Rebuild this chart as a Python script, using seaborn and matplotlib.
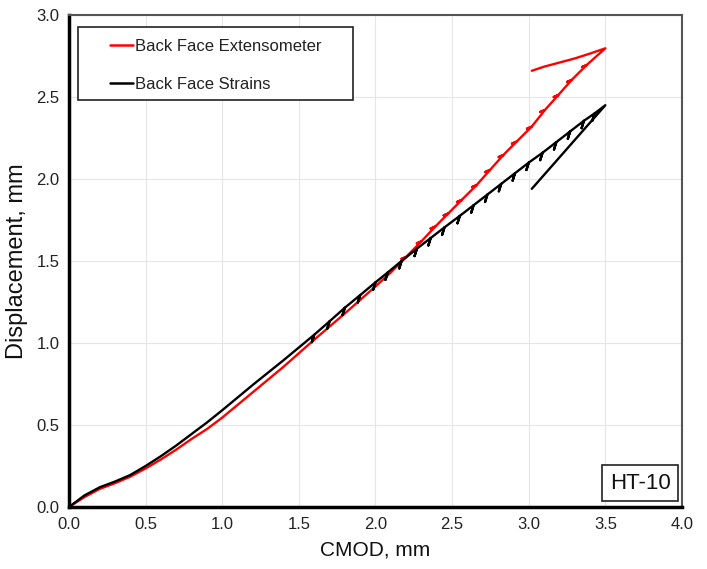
import matplotlib
matplotlib.use("Agg")
import matplotlib.pyplot as plt
from matplotlib.patches import Rectangle
import seaborn as sns
import pandas as pd

# ---- data ----
red_x = [0.00, 0.05, 0.10, 0.20, 0.30, 0.40, 0.50, 0.60, 0.70, 0.80, 0.90, 1.00,
         1.20, 1.40, 1.60, 1.80, 2.00, 2.10,
         2.20, 2.17, 2.20, 2.30, 2.27, 2.30, 2.39, 2.36, 2.39,
         2.475, 2.445, 2.475, 2.562, 2.532, 2.562, 2.660, 2.630, 2.660,
         2.747, 2.717, 2.747, 2.834, 2.804, 2.834, 2.921, 2.891, 2.921,
         3.019, 2.989, 3.019, 3.106, 3.076, 3.106, 3.193, 3.163, 3.193,
         3.280, 3.250, 3.280, 3.378, 3.348, 3.378,
         3.50, 3.40, 3.30, 3.20, 3.10, 3.02]
red_y = [0.000, 0.030, 0.060, 0.110, 0.145, 0.185, 0.235, 0.290, 0.350, 0.415, 0.475, 0.545,
         0.700, 0.855, 1.020, 1.180, 1.345, 1.430,
         1.525, 1.513, 1.525, 1.620, 1.608, 1.620, 1.710, 1.698, 1.710,
         1.790, 1.778, 1.790, 1.872, 1.860, 1.872, 1.963, 1.951, 1.963,
         2.055, 2.043, 2.055, 2.146, 2.134, 2.146, 2.228, 2.216, 2.228,
         2.319, 2.307, 2.319, 2.421, 2.409, 2.421, 2.512, 2.500, 2.512,
         2.604, 2.592, 2.604, 2.695, 2.683, 2.695,
         2.797, 2.765, 2.735, 2.710, 2.685, 2.660]

black_x = [0.00, 0.05, 0.10, 0.20, 0.30, 0.40, 0.50, 0.60, 0.70, 0.80, 0.90, 1.00,
           1.20, 1.40,
           1.60, 1.585, 1.60, 1.70, 1.685, 1.70, 1.80, 1.785, 1.80, 1.90, 1.885, 1.90,
           2.00, 1.985, 2.00, 2.08, 2.065, 2.08, 2.17, 2.155, 2.17, 2.27, 2.255, 2.27,
           2.36, 2.345, 2.36, 2.45, 2.435, 2.45, 2.55, 2.535, 2.55, 2.64, 2.625, 2.64,
           2.73, 2.715, 2.73, 2.82, 2.805, 2.82, 2.91, 2.895, 2.91, 3.00, 2.985, 3.00,
           3.09, 3.075, 3.09, 3.18, 3.165, 3.18, 3.27, 3.255, 3.27, 3.36, 3.345, 3.36,
           3.43, 3.415, 3.43, 3.50, 3.02]
black_y = [0.000, 0.035, 0.070, 0.120, 0.155, 0.195, 0.250, 0.310, 0.375, 0.445, 0.515, 0.590,
           0.745, 0.895,
           1.050, 1.005, 1.050, 1.132, 1.087, 1.132, 1.215, 1.170, 1.215, 1.292, 1.247, 1.292,
           1.370, 1.325, 1.370, 1.430, 1.385, 1.430, 1.500, 1.455, 1.500, 1.575, 1.530, 1.575,
           1.640, 1.595, 1.640, 1.705, 1.660, 1.705, 1.775, 1.730, 1.775, 1.840, 1.795, 1.840,
           1.905, 1.860, 1.905, 1.970, 1.925, 1.970, 2.035, 1.990, 2.035, 2.100, 2.055, 2.100,
           2.160, 2.115, 2.160, 2.225, 2.180, 2.225, 2.290, 2.245, 2.290, 2.355, 2.310, 2.355,
           2.400, 2.355, 2.400, 2.450, 1.940]

series_names = ["Back Face Extensometer", "Back Face Strains"]
x_ticks = [0.0, 0.5, 1.0, 1.5, 2.0, 2.5, 3.0, 3.5, 4.0]
y_ticks = [0.0, 0.5, 1.0, 1.5, 2.0, 2.5, 3.0]
specimen_label = "HT-10"

# ---- build tidy frame ----
df = pd.concat([
    pd.DataFrame({"x": red_x, "y": red_y, "series": series_names[0]}),
    pd.DataFrame({"x": black_x, "y": black_y, "series": series_names[1]}),
], ignore_index=True)

sns.set_theme(style="white")
plt.rcParams["font.family"] = ["Liberation Sans", "DejaVu Sans"]

fig = plt.figure(figsize=(7.07, 5.69), dpi=100)
ax = fig.add_axes([0.0976, 0.109, 0.867, 0.8646])

sns.lineplot(data=df, x="x", y="y", hue="series",
             palette={series_names[0]: "#ff0000", series_names[1]: "#000000"},
             sort=False, estimator=None, linewidth=1.7, ax=ax)

ax.set_xlim(0, 4.0)
ax.set_ylim(0, 3.0)
ax.set_xticks(x_ticks)
ax.set_yticks(y_ticks)
ax.set_xticklabels([f"{v:.1f}" for v in x_ticks], fontsize=12, color="#222222")
ax.set_yticklabels([f"{v:.1f}" for v in y_ticks], fontsize=12, color="#222222")
ax.tick_params(axis="both", length=0, pad=7)
ax.grid(True, color="#e6e6e6", linewidth=0.8)
ax.set_axisbelow(True)

ax.set_xlabel("CMOD, mm", fontsize=15, color="#111111", labelpad=6)
ax.set_ylabel("Displacement, mm", fontsize=17, color="#111111", labelpad=6)

for side in ["left", "bottom"]:
    ax.spines[side].set_color("#000000")
    ax.spines[side].set_linewidth(2.5)
for side in ["top", "right"]:
    ax.spines[side].set_color("#555555")
    ax.spines[side].set_linewidth(1.5)

# legend box (frame drawn separately so it can be wider than its content)
ax.add_patch(Rectangle((0.0147, 0.8272), 0.4486, 0.1484, transform=ax.transAxes,
                       facecolor="white", edgecolor="#222222", linewidth=1.2,
                       zorder=4))
leg = ax.legend(loc="upper left", bbox_to_anchor=(0.0669, 0.951), fontsize=12,
                frameon=False, handlelength=1.4, handletextpad=0.1,
                borderpad=0, labelspacing=1.35, borderaxespad=0)
leg.set_zorder(5)
for t in leg.get_texts():
    t.set_color("#222222")
for line in leg.get_lines():
    line.set_linewidth(1.8)

ax.text(0.9815, 0.027, specimen_label, transform=ax.transAxes, fontsize=16,
        ha="right", va="bottom", color="#111111", zorder=5,
        bbox=dict(boxstyle="square,pad=0.35", facecolor="white",
                  edgecolor="#222222", linewidth=1.2))

fig.savefig("out.png", dpi=100)
